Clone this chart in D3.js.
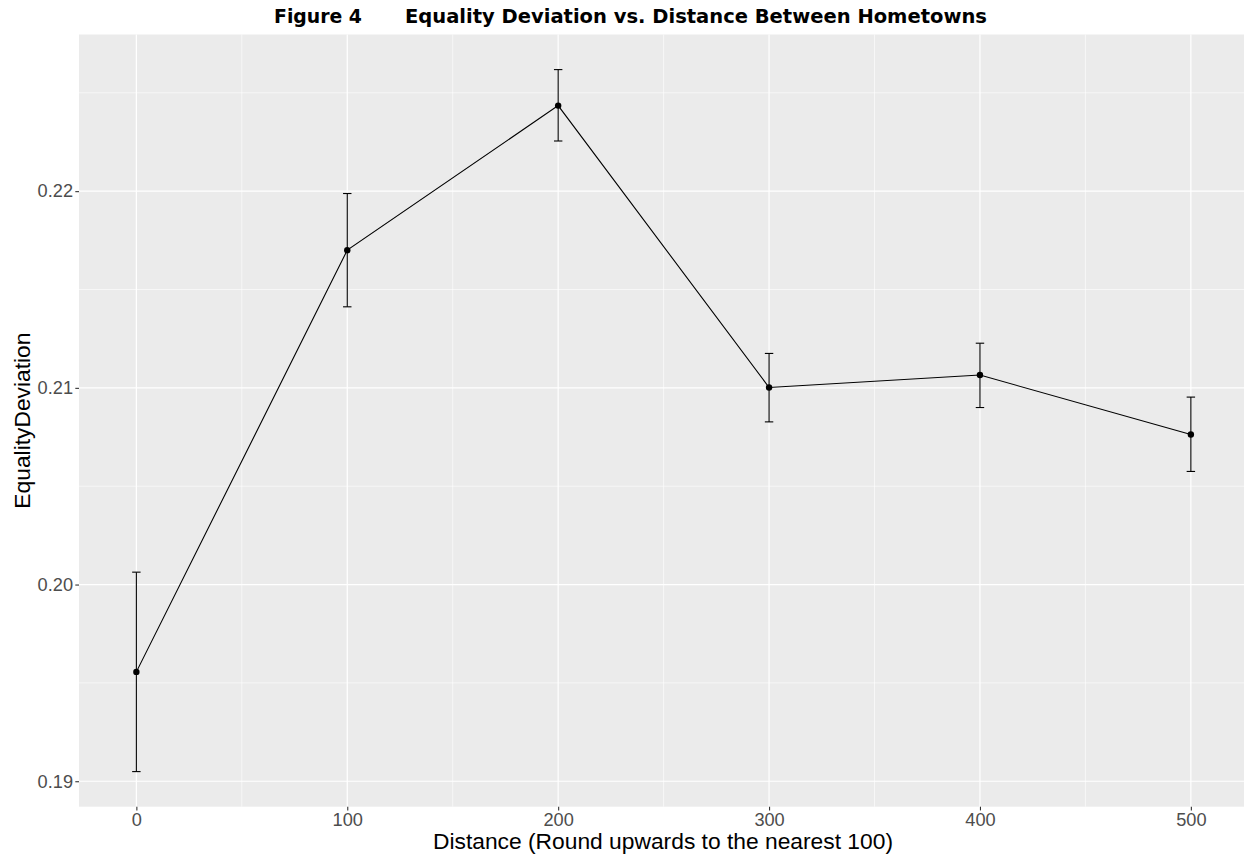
<!DOCTYPE html>
<html>
<head>
<meta charset="utf-8">
<script src="https://cdn.jsdelivr.net/npm/d3@7"></script>
<style>
  body { margin: 0; background: #fff; }
  svg { display: block; }
</style>
</head>
<body>
<div id="chart"></div>
<script>
// values
const distances = [0, 100, 200, 300, 400, 500];
const means = [0.19556, 0.21700, 0.22435, 0.21002, 0.21065, 0.20763];
const lower = [0.19049, 0.21412, 0.22255, 0.20827, 0.20900, 0.20575];
const upper = [0.20063, 0.21988, 0.22618, 0.21175, 0.21227, 0.20953];
const xTicks = [0, 100, 200, 300, 400, 500];
const xMinor = [50, 150, 250, 350, 450];
const yTicks = [0.19, 0.20, 0.21, 0.22];
const yMinor = [0.195, 0.205, 0.215, 0.225];

const width = 1244;
const height = 855;
const margin = { top: 34.5, right: 0, bottom: 48.3, left: 79 };
const innerWidth = width - margin.left - margin.right;
const innerHeight = height - margin.top - margin.bottom;
const font = "'Liberation Sans', Arial, sans-serif";

const data = distances.map((d, i) => ({ x: d, y: means[i], lo: lower[i], hi: upper[i] }));

const svg = d3.select("#chart")
    .append("svg")
    .attr("width", width)
    .attr("height", height);

// ggplot-like 5% expansion on the left, panel runs to the page edge
const barW = 4;
const xr = [d3.min(distances) - barW / 2, d3.max(distances) + barW / 2];
const xPad = (xr[1] - xr[0]) * 0.05;
const pxPerUnit = 210.9 / 100;
const x = d3.scaleLinear()
    .domain([xr[0] - xPad, xr[0] - xPad + innerWidth / pxPerUnit])
    .range([0, innerWidth]);

const yr = [d3.min(lower), d3.max(upper)];
const yPad = (yr[1] - yr[0]) * 0.05;
const y = d3.scaleLinear()
    .domain([yr[0] - yPad, yr[1] + yPad])
    .range([innerHeight, 0]);

const graph = svg.append("g")
    .attr("transform", `translate(${margin.left},${margin.top})`);

graph.append("rect")
    .attr("width", innerWidth)
    .attr("height", innerHeight)
    .attr("fill", "#ebebeb");

// grid
graph.selectAll(".ymin").data(yMinor).enter().append("line")
    .attr("x1", 0).attr("x2", innerWidth)
    .attr("y1", d => y(d)).attr("y2", d => y(d))
    .attr("stroke", "#fff").attr("stroke-width", 0.6);
graph.selectAll(".xmin").data(xMinor).enter().append("line")
    .attr("y1", 0).attr("y2", innerHeight)
    .attr("x1", d => x(d)).attr("x2", d => x(d))
    .attr("stroke", "#fff").attr("stroke-width", 0.6);
graph.selectAll(".ymaj").data(yTicks).enter().append("line")
    .attr("x1", 0).attr("x2", innerWidth)
    .attr("y1", d => y(d)).attr("y2", d => y(d))
    .attr("stroke", "#fff").attr("stroke-width", 1.2);
graph.selectAll(".xmaj").data(xTicks).enter().append("line")
    .attr("y1", 0).attr("y2", innerHeight)
    .attr("x1", d => x(d)).attr("x2", d => x(d))
    .attr("stroke", "#fff").attr("stroke-width", 1.2);

// axes
const xAxis = graph.append("g")
    .attr("transform", `translate(0,${innerHeight})`)
    .call(d3.axisBottom(x).tickValues(xTicks).tickSize(3.7).tickPadding(2.6).tickFormat(d3.format("d")));
const yAxis = graph.append("g")
    .call(d3.axisLeft(y).tickValues(yTicks).tickSize(3.7).tickPadding(2.3).tickFormat(d3.format(".2f")));
[xAxis, yAxis].forEach(a => {
    a.select(".domain").remove();
    a.selectAll(".tick line").attr("stroke", "#333").attr("stroke-width", 1.1);
    a.selectAll(".tick text")
        .attr("fill", "#4d4d4d")
        .style("font-family", font)
        .style("font-size", "18.2px");
});

// line
graph.append("path")
    .datum(data)
    .attr("fill", "none")
    .attr("stroke", "#000")
    .attr("stroke-width", 1.1)
    .attr("d", d3.line().x(d => x(d.x)).y(d => y(d.y)));

// error bars
const eb = graph.selectAll(".eb").data(data).enter().append("g")
    .attr("stroke", "#000").attr("stroke-width", 1.1);
eb.append("line")
    .attr("x1", d => x(d.x)).attr("x2", d => x(d.x))
    .attr("y1", d => y(d.lo)).attr("y2", d => y(d.hi));
eb.append("line")
    .attr("x1", d => x(d.x - barW / 2)).attr("x2", d => x(d.x + barW / 2))
    .attr("y1", d => y(d.lo)).attr("y2", d => y(d.lo));
eb.append("line")
    .attr("x1", d => x(d.x - barW / 2)).attr("x2", d => x(d.x + barW / 2))
    .attr("y1", d => y(d.hi)).attr("y2", d => y(d.hi));

// points
graph.selectAll(".pt").data(data).enter().append("circle")
    .attr("cx", d => x(d.x)).attr("cy", d => y(d.y))
    .attr("r", 3.2).attr("fill", "#000");

// axis titles
svg.append("text")
    .attr("x", 663)
    .attr("y", 849)
    .attr("text-anchor", "middle")
    .style("font-family", font)
    .style("font-size", "22.8px")
    .attr("fill", "#000")
    .text("Distance (Round upwards to the nearest 100)");

svg.append("text")
    .attr("transform", `translate(29.5,${margin.top + innerHeight / 2}) rotate(-90)`)
    .attr("text-anchor", "middle")
    .style("font-family", font)
    .style("font-size", "22.8px")
    .attr("fill", "#000")
    .text("EqualityDeviation");

// title
const titleFont = "'Liberation Sans Narrow', 'DejaVu Sans Condensed', 'Liberation Sans', sans-serif";
svg.append("text")
    .attr("x", 274).attr("y", 23)
    .attr("textLength", 88).attr("lengthAdjust", "spacingAndGlyphs")
    .style("font-family", titleFont).style("font-weight", "bold").style("font-size", "19px")
    .text("Figure 4");
svg.append("text")
    .attr("x", 405).attr("y", 23)
    .attr("textLength", 582).attr("lengthAdjust", "spacingAndGlyphs")
    .style("font-family", titleFont).style("font-weight", "bold").style("font-size", "19px")
    .text("Equality Deviation vs. Distance Between Hometowns");
</script>
</body>
</html>
